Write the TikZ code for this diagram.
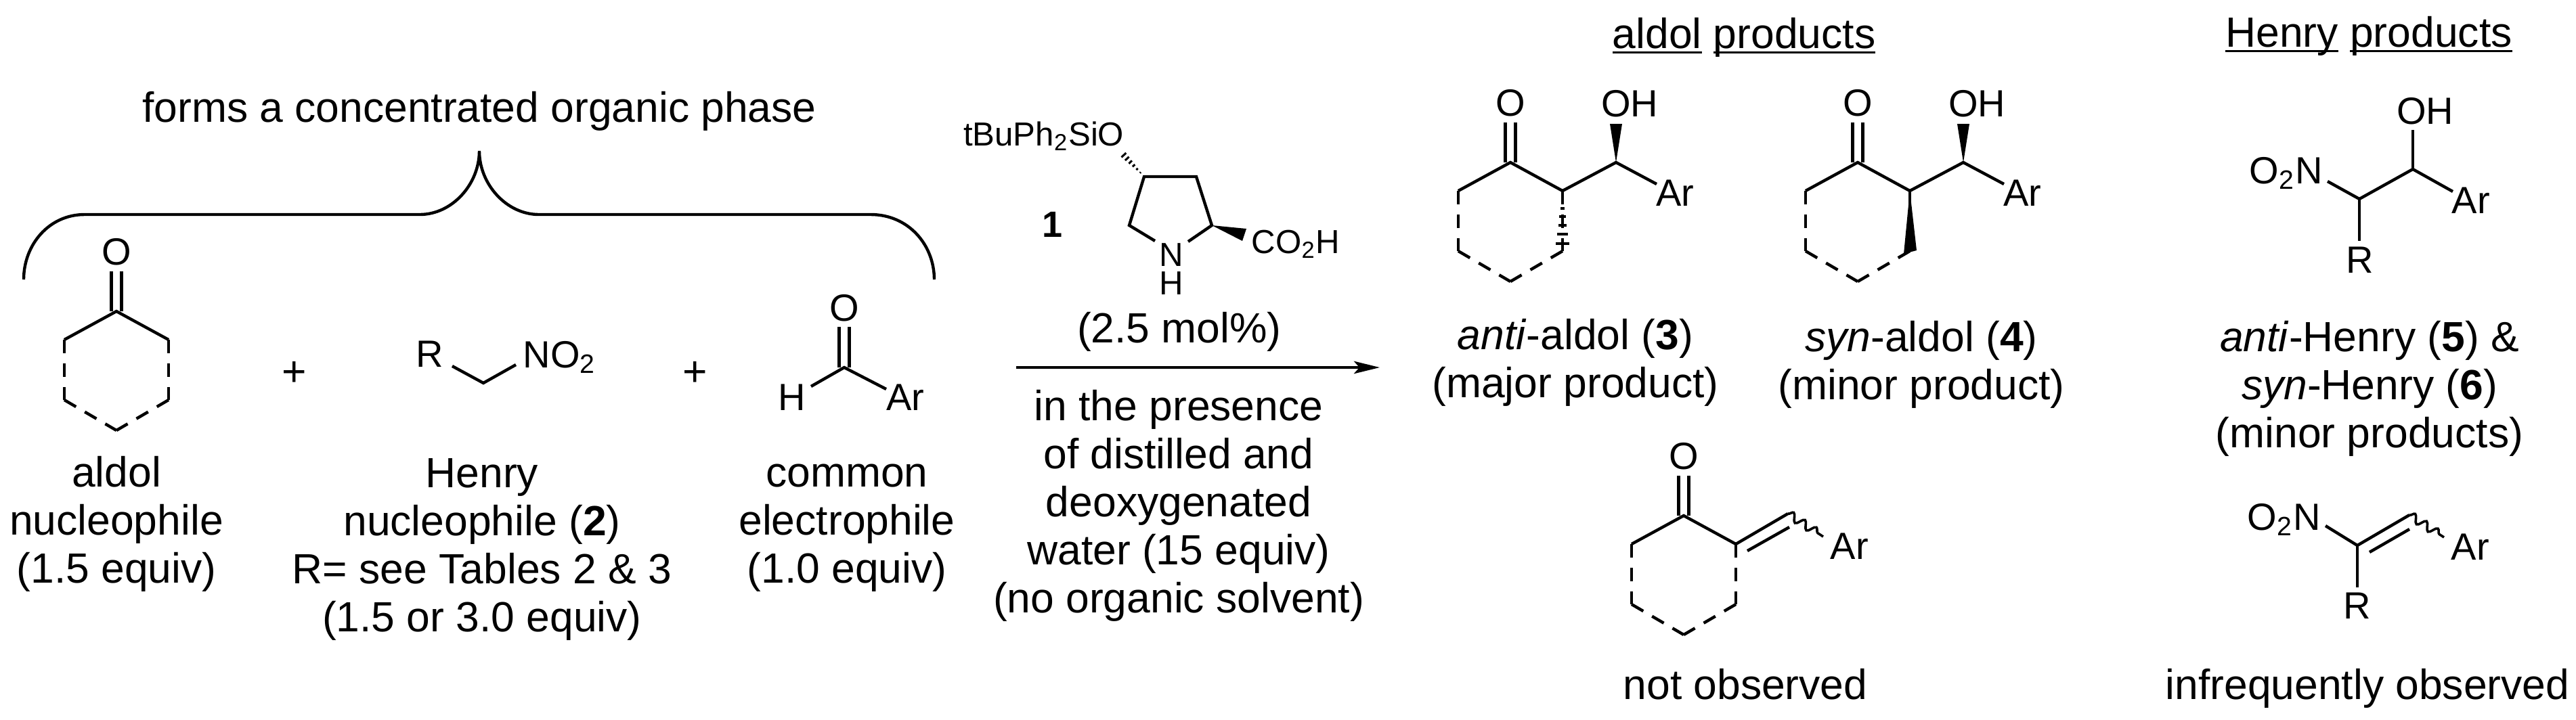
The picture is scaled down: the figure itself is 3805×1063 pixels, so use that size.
\documentclass[tikz,border=0pt]{standalone}
\usepackage{fontspec}
\setmainfont{Liberation Sans}
\usetikzlibrary{arrows.meta,calc,decorations.pathmorphing}
\newsavebox{\wordbox}
\newcommand{\wordline}[1]{\sbox{\wordbox}{#1}\rlap{\rule[-2pt]{\wd\wordbox}{.75pt}}\usebox{\wordbox}}

\begin{document}
\begin{tikzpicture}[
        x=.25pt, y=-.25pt,
        label text/.style={anchor=base, inner sep=0pt, align=center, font=\fontsize{15.6}{17.7}\selectfont},
        atom/.style={anchor=base, inner sep=0pt, font=\fontsize{14}{16}\selectfont},
        small atom/.style={anchor=base, inner sep=0pt, font=\fontsize{12.3}{14}\selectfont},
        bond/.style={line width=1.1pt},
        dash bond/.style={line width=1.1pt, dash pattern=on 5pt off 3.75pt},
        wave bond/.style={line width=.9pt, decorate, decoration={snake, amplitude=1.5pt, segment length=5pt}},
        rxn arrow/.style={line width=1pt, -{Stealth[length=9.5pt,width=4.6pt,inset=2pt]}}
    ]
    \useasboundingbox (0,0) rectangle (3805,1063);

    % brace and its label
    \node[label text] (phase) at (708,180) {forms a concentrated organic phase};
    \coordinate (brL) at (35,413);
    \coordinate (brA) at (125,317);
    \coordinate (brB) at (620,317);
    \coordinate (brTop) at (708,223);
    \coordinate (brC) at (796,317);
    \coordinate (brD) at (1286,317);
    \coordinate (brR) at (1380,413);
    \draw[bond] (brL) .. controls (35,362) and (72,317) .. (brA) -- (brB)
        .. controls (668,317) and (708,272) .. (brTop)
        .. controls (708,272) and (748,317) .. (brC) -- (brD)
        .. controls (1342,317) and (1380,362) .. (brR);

    % the four six-membered rings
    \foreach \rng/\rx/\ry in {k/172/460,a/2231/240,s/2744/240,e/2487/762} {
        \coordinate (\rng1) at (\rx,\ry);
        \coordinate (\rng2) at (\rx-77,\ry+42);
        \coordinate (\rng3) at (\rx-77,\ry+131);
        \coordinate (\rng4) at (\rx,\ry+176);
        \coordinate (\rng5) at (\rx+77,\ry+131);
        \coordinate (\rng6) at (\rx+77,\ry+42);
        \coordinate (\rng O) at (\rx,\ry-59);
        \node[atom] (\rng Olab) at (\rx,\ry-69) {O};
        \draw[bond] (\rng2) -- (\rng1) -- (\rng6);
        \draw[bond] ([xshift=-1.9pt]\rng1) -- ([xshift=-1.9pt]\rng O);
        \draw[bond] ([xshift=1.9pt]\rng1) -- ([xshift=1.9pt]\rng O);
        \foreach \p/\q in {2/3,3/4,5/4,6/5}
            \draw[dash bond] (\rng\p) -- (\rng\q);
    }

    % starting materials
    \node[label text] (plusA) at (435,570) {+};
    \node[label text] (plusB) at (1027,570) {+};
    \node[label text] (aldolnuc) at (172,861) {aldol\\nucleophile\\(1.5 equiv)};
    \node[label text] (henrynuc) at (712,933) {Henry\\nucleophile (\textbf{2})\\R= see Tables 2 \& 3\\(1.5 or 3.0 equiv)};
    \node[label text] (electro) at (1251,861) {common\\electrophile\\(1.0 equiv)};

    \node[atom] (nitroR) at (635,542) {R};
    \node[atom, anchor=base west] (nitroN) at (772,543) {NO\textsubscript{2}};
    \coordinate (nitroA) at (668,541);
    \coordinate (nitroC) at (714,566);
    \coordinate (nitroB) at (762,539);
    \draw[bond] (nitroA) -- (nitroC) -- (nitroB);

    \node[atom] (aldO) at (1247,474) {O};
    \node[atom] (aldH) at (1170,606) {H};
    \node[atom] (aldAr) at (1337,606) {Ar};
    \coordinate (aldC) at (1247,543);
    \coordinate (aldT) at (1247,483);
    \coordinate (aldL) at (1198,571);
    \coordinate (aldR) at (1309,575);
    \draw[bond] (aldL) -- (aldC) -- (aldR);
    \draw[bond] ([xshift=-1.9pt]aldC) -- ([xshift=-1.9pt]aldT);
    \draw[bond] ([xshift=1.9pt]aldC) -- ([xshift=1.9pt]aldT);

    % catalyst
    \node[small atom, anchor=base east] (cato) at (1661,215) {tBuPh\textsubscript{2}SiO};
    \node[small atom, anchor=base west] (catacid) at (1848,374) {CO\textsubscript{2}H};
    \node[small atom] (catN) at (1730,393) {N};
    \node[small atom] (catH) at (1730,435) {H};
    \node[atom, font=\fontsize{13.5}{16}\selectfont\bfseries] (catnum) at (1555,350) {1};
    \coordinate (c4) at (1690,261);
    \coordinate (c3) at (1767,261);
    \coordinate (c2) at (1790,333);
    \coordinate (c5) at (1668,333);
    \coordinate (nL) at (1706,356);
    \coordinate (nR) at (1755,357);
    \coordinate (oEnd) at (1655,224);
    \coordinate (wA) at (1841,338);
    \coordinate (wB) at (1835,356);
    \draw[bond, line join=miter] (nR) -- (c2) -- (c3) -- (c4) -- (c5) -- (nL);
    \fill (c2) -- (wA) -- (wB) -- cycle;
    \foreach \t in {.16,.30,.44,.58,.72,.86}
        \draw[line width=.75pt] ($(c4)!\t!(oEnd)!1.35pt*\t!90:(oEnd)$) -- ($(c4)!\t!(oEnd)!1.35pt*\t!-90:(oEnd)$);

    % reaction arrow and conditions
    \node[label text] (loading) at (1742,506) {(2.5 mol\%)};
    \coordinate (arrL) at (1501,543);
    \coordinate (arrR) at (2038,543);
    \draw[rxn arrow] (arrL) -- (arrR);
    \node[label text] (conds) at (1741,905) {in the presence\\of distilled and\\deoxygenated\\water (15 equiv)\\(no organic solvent)};

    % aldol products
    \node[label text] (aldolhead) at (2576,71) {\wordline{aldol} \wordline{products}};
    \foreach \m/\dx in {a/0,s/513} {
        \coordinate (\m C) at (2387+\dx,240);
        \coordinate (\m Arb) at (2447+\dx,272);
        \coordinate (\m Wa) at (2378+\dx,183);
        \coordinate (\m Wb) at (2396+\dx,183);
        \node[atom] (\m OH) at (2407+\dx,172) {OH};
        \node[atom] (\m Ar) at (2474+\dx,304) {Ar};
        \draw[bond] (\m6) -- (\m C) -- (\m Arb);
        \fill (\m C) -- (\m Wa) -- (\m Wb) -- cycle;
    }
    \coordinate (aHash) at (2308,372);
    \foreach \t in {.15,.29,.42,.57,.71,.87}
        \draw[line width=1pt] ($(a6)!\t!(aHash)!2.75pt*\t!90:(aHash)$) -- ($(a6)!\t!(aHash)!2.75pt*\t!-90:(aHash)$);
    \coordinate (sWa) at (2812,375);
    \coordinate (sWb) at (2831,370);
    \fill (s6) -- (sWa) -- (sWb) -- cycle;
    \node[label text] (antilab) at (2327,587) {\textit{anti}-aldol (\textbf{3})\\(major product)};
    \node[label text] (synlab) at (2838,590) {\textit{syn}-aldol (\textbf{4})\\(minor product)};

    % enone, not observed
    \node[atom, anchor=base west] (eAr) at (2703,826) {Ar};
    \coordinate (eX) at (2641,759);
    \coordinate (eIa) at (2581,814);
    \coordinate (eIb) at (2643,779);
    \coordinate (eW) at (2693,793);
    \draw[bond] (e6) -- (eX);
    \draw[bond] (eIa) -- (eIb);
    \draw[wave bond] (eX) -- (eW);
    \node[label text] (notobs) at (2578,1033) {not observed};

    % Henry products
    \node[label text] (henryhead) at (3499,69) {\wordline{Henry} \wordline{products}};
    \node[atom, anchor=base west] (hN) at (3322,271) {O\textsubscript{2}N};
    \node[atom] (hOH) at (3582,183) {OH};
    \node[atom, anchor=base west] (hAr) at (3621,315) {Ar};
    \node[atom] (hR) at (3486,403) {R};
    \coordinate (hNb) at (3438,268);
    \coordinate (hC1) at (3485,294);
    \coordinate (hC2) at (3564,250);
    \coordinate (hOb) at (3564,192);
    \coordinate (hArb) at (3623,283);
    \coordinate (hRb) at (3485,356);
    \draw[bond] (hNb) -- (hC1) -- (hC2) -- (hArb);
    \draw[bond] (hC2) -- (hOb);
    \draw[bond] (hC1) -- (hRb);
    \node[label text] (henrylab) at (3500,661) {\textit{anti}-Henry (\textbf{5}) \&\\\textit{syn}-Henry (\textbf{6})\\(minor products)};

    % nitroalkene, infrequently observed
    \node[atom, anchor=base west] (vN) at (3319,783) {O\textsubscript{2}N};
    \node[atom, anchor=base west] (vAr) at (3620,827) {Ar};
    \node[atom] (vR) at (3482,914) {R};
    \coordinate (vNb) at (3435,777);
    \coordinate (vC) at (3482,806);
    \coordinate (vX) at (3559,761);
    \coordinate (vIa) at (3500,816);
    \coordinate (vIb) at (3559,782);
    \coordinate (vW) at (3610,794);
    \coordinate (vRb) at (3482,868);
    \draw[bond] (vNb) -- (vC) -- (vX);
    \draw[bond] (vC) -- (vRb);
    \draw[bond] (vIa) -- (vIb);
    \draw[wave bond] (vX) -- (vW);
    \node[label text] (infreq) at (3497,1033) {infrequently observed};

\end{tikzpicture}
\end{document}
